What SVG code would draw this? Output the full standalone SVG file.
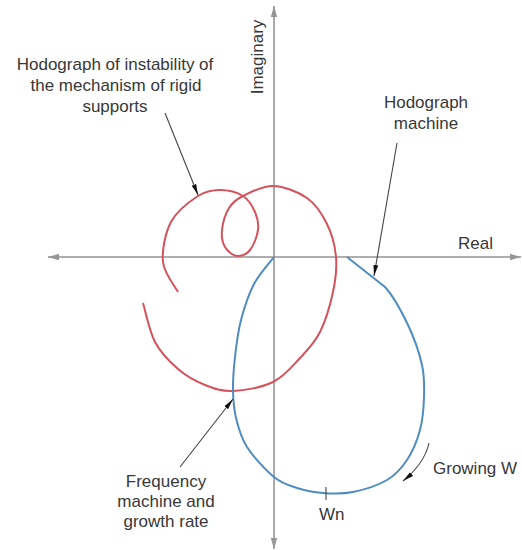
<svg xmlns="http://www.w3.org/2000/svg" width="522" height="550" viewBox="0 0 522 550">
<style>
.t{font-family:"Liberation Sans",Arial,sans-serif;font-size:17px;fill:#383838}
.ax{stroke:#959595;stroke-width:1.6;fill:none}
.ld{stroke:#444;stroke-width:1.1;fill:none}
.red{stroke:#d4525c;stroke-width:2;fill:none}
.blue{stroke:#4f8cbf;stroke-width:2;fill:none}
</style>
<defs>
<marker id="axh" markerUnits="userSpaceOnUse" markerWidth="12" markerHeight="8" refX="11" refY="4" orient="auto">
<path d="M0,0.8 L11,4 L0,7.2 Z" fill="#959595"/>
</marker>
<marker id="lh" markerUnits="userSpaceOnUse" markerWidth="12" markerHeight="6" refX="11" refY="3" orient="auto">
<path d="M0,0.6 L11,3 L0,5.4 Z" fill="#111"/>
</marker>
</defs>
<rect width="522" height="550" fill="#fff"/>
<g id="axes">
<line class="ax" x1="274" y1="257" x2="48" y2="257" marker-end="url(#axh)"/>
<line class="ax" x1="274" y1="257" x2="521" y2="257" marker-end="url(#axh)"/>
<line class="ax" x1="274" y1="257" x2="274" y2="6" marker-end="url(#axh)"/>
<line class="ax" x1="274" y1="257" x2="274" y2="549" marker-end="url(#axh)"/>
<text class="t" transform="translate(263,57) rotate(-90)" text-anchor="middle">Imaginary</text>
<text class="t" x="458" y="249">Real</text>
</g>
<g id="hodograph-instability">
<path class="red" d="M178,292 C175.5,287 164.2,273.7 163,262 C161.8,250.3 165.2,233 171,222 C176.8,211 189.8,201.3 198,196 C206.2,190.7 212.5,190 220,190 C227.5,190 237.2,192.3 243,196 C248.8,199.7 252.5,206.3 255,212 C257.5,217.7 258.8,223.7 258,230 C257.2,236.3 253.5,245.7 250,250 C246.5,254.3 241.2,256.5 237,256 C232.8,255.5 227.5,251.3 225,247 C222.5,242.7 221.3,236.5 222,230 C222.7,223.5 225.5,213.7 229,208 C232.5,202.3 235.7,199.7 243,196 C250.3,192.3 262.3,185.7 273,186 C283.7,186.3 298,191.7 307,198 C316,204.3 322.2,214.2 327,224 C331.8,233.8 335,245.7 336,257 C337,268.3 335.7,279.5 333,292 C330.3,304.5 325.5,321 320,332 C314.5,343 307.8,349.7 300,358 C292.2,366.3 284.2,376.5 273,382 C261.8,387.5 244.3,390.5 233,391 C221.7,391.5 214.2,388.7 205,385 C195.8,381.3 186.3,376.2 178,369 C169.7,361.8 160.8,353 155,342 C149.2,331 145,309.5 143,303"/>
</g>
<g id="hodograph-machine">
<path class="blue" d="M274,257 C270.7,261.5 259.5,273.5 254,284 C248.5,294.5 244.2,307.8 241,320 C237.8,332.2 236.3,345.3 235,357 C233.7,368.7 232.8,379.8 233,390 C233.2,400.2 233.7,408.5 236,418 C238.3,427.5 240.7,437.2 247,447 C253.3,456.8 265.7,470.2 274,477 C282.3,483.8 288.8,485.3 297,488 C305.2,490.7 313.7,492.3 323,493 C332.3,493.7 342.3,494.2 353,492 C363.7,489.8 378,485.3 387,480 C396,474.7 401.5,468.3 407,460 C412.5,451.7 417.2,440.5 420,430 C422.8,419.5 423.7,407.8 424,397 C424.3,386.2 424.7,377 422,365 C419.3,353 414.2,338 408,325 C401.8,312 395.2,298.3 385,287 L347,257"/>
<line stroke="#444" stroke-width="1.1" x1="326" y1="487" x2="326" y2="500"/>
</g>
<g id="connectors">
<line class="ld" x1="165" y1="113" x2="198" y2="195" marker-end="url(#lh)"/>
<line class="ld" x1="397" y1="143" x2="374" y2="276" marker-end="url(#lh)"/>
<line class="ld" x1="180" y1="467" x2="233" y2="399" marker-end="url(#lh)"/>
<path class="ld" stroke="#777" d="M429,443 Q424.5,463.5 403,481" marker-end="url(#lh)"/>
</g>
<g id="labels">
<text class="t" text-anchor="middle"><tspan x="115" y="70">Hodograph of instability of</tspan><tspan x="116" y="91">the mechanism of rigid</tspan><tspan x="115" y="112">supports</tspan></text>
<text class="t" text-anchor="middle"><tspan x="426" y="108">Hodograph</tspan><tspan x="426" y="129">machine</tspan></text>
<text class="t" text-anchor="middle"><tspan x="166" y="487">Frequency</tspan><tspan x="166" y="507">machine and</tspan><tspan x="166" y="527">growth rate</tspan></text>
<text class="t" x="433" y="474">Growing W</text>
<text class="t" x="319" y="520">Wn</text>
</g>
</svg>
